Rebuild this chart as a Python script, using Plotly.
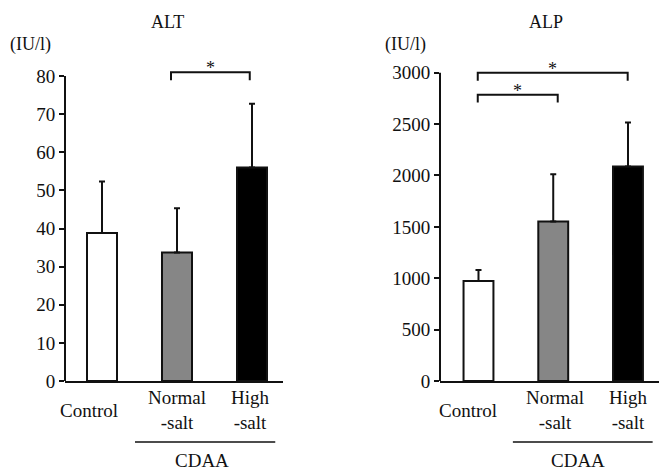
import plotly.graph_objects as go

# ---- data ----
categories = ["Control", "Normal<br>-salt", "High<br>-salt"]
alt_mean = [38.8, 33.7, 56.0]
alt_sd = [13.5, 11.6, 16.7]
alp_mean = [974, 1551, 2087]
alp_sd = [107, 462, 428]
bar_colors = ["white", "#868686", "black"]

# significance brackets: start category, end category, level, drop
alt_sig_from = [0.92]
alt_sig_to = [1.97]
alt_sig_level = [81]
alt_sig_drop = [2.1]
alp_sig_from = [-0.01, -0.01]
alp_sig_to = [1.996, 1.06]
alp_sig_level = [3000, 2785]
alp_sig_drop = [78, 75]

FONT = "Liberation Serif"
INK = "#111111"
xs = list(range(len(categories)))

fig = go.Figure()

for mean, sd, xa, ya in [(alt_mean, alt_sd, "x", "y"), (alp_mean, alp_sd, "x2", "y2")]:
    fig.add_trace(go.Bar(
        x=xs, y=mean, width=0.4,
        marker=dict(color=bar_colors, line=dict(color=INK, width=2)),
        error_y=dict(type="data", symmetric=False, array=sd,
                     arrayminus=[0] * len(sd), color=INK, thickness=2, width=3),
        xaxis=xa, yaxis=ya, showlegend=False, hoverinfo="skip",
    ))

axis_common = dict(showgrid=False, zeroline=False)
fig.update_layout(
    template="none",
    width=660, height=471,
    margin=dict(l=0, r=0, t=0, b=0),
    paper_bgcolor="white", plot_bgcolor="white",
    font=dict(family=FONT, size=19, color=INK),
    xaxis=dict(domain=[65 / 660, 283 / 660], range=[-0.4933, 2.4133],
               showline=True, linewidth=2, linecolor=INK,
               showticklabels=False, ticks="", anchor="y", **axis_common),
    yaxis=dict(domain=[1 - 381 / 471, 1 - 60.75 / 471], range=[0, 84],
               tickvals=list(range(0, 81, 10)), ticks="outside", ticklen=5,
               tickwidth=2, tickcolor=INK, showline=False, anchor="x",
               tickfont=dict(size=19), **axis_common),
    xaxis2=dict(domain=[440 / 660, 659 / 660], range=[-0.515, 2.415],
                showline=True, linewidth=2, linecolor=INK,
                showticklabels=False, ticks="", anchor="y2", **axis_common),
    yaxis2=dict(domain=[1 - 381 / 471, 1 - 57.3 / 471], range=[0, 3150],
                tickvals=list(range(0, 3001, 500)), ticks="outside", ticklen=5,
                tickwidth=2, tickcolor=INK, showline=False, anchor="x2",
                tickfont=dict(size=19), **axis_common),
)

line = dict(color=INK, width=2)

# y axis lines stopping at top tick
fig.add_shape(type="line", xref="paper", yref="y", x0=65 / 660, x1=65 / 660,
              y0=0, y1=80, line=line)
fig.add_shape(type="line", xref="paper", yref="y2", x0=440 / 660, x1=440 / 660,
              y0=0, y1=3000, line=line)

# significance brackets
for xa, ya, f, t, lv, dr in [("x", "y", alt_sig_from, alt_sig_to, alt_sig_level, alt_sig_drop),
                              ("x2", "y2", alp_sig_from, alp_sig_to, alp_sig_level, alp_sig_drop)]:
    for a, b, l, d in zip(f, t, lv, dr):
        fig.add_shape(type="path", xref=xa, yref=ya,
                      path=f"M {a} {l - d} L {a} {l} L {b} {l} L {b} {l - d}",
                      line=line, fillcolor="rgba(0,0,0,0)")
        fig.add_annotation(x=(a + b) / 2, y=l, xref=xa, yref=ya, text="*",
                           showarrow=False, yanchor="middle", yshift=4,
                           font=dict(size=18, family=FONT, color=INK))

# category labels
label_shift = [-13, 0, -2]
label_shift2 = [-10, 2, 1]
for xa, shifts in [("x", label_shift), ("x2", label_shift2)]:
    for i, c in enumerate(categories):
        fig.add_annotation(x=xs[i], y=1 - 410 / 471, xref=xa, yref="paper",
                           text=c, showarrow=False, xshift=shifts[i],
                           yanchor="middle", font=dict(size=19))

# CDAA group lines and labels
for xa, x0, x1, xt in [("x", 0.44, 2.31, 1.333), ("x2", 0.46, 2.33, 1.331)]:
    fig.add_shape(type="line", xref=xa, yref="paper", x0=x0, x1=x1,
                  y0=1 - 442 / 471, y1=1 - 442 / 471, line=dict(color=INK, width=1.5))
    fig.add_annotation(x=xt, y=1 - 460 / 471, xref=xa, yref="paper", text="CDAA",
                       showarrow=False, yanchor="middle", font=dict(size=19))

# titles and units
for txt, px, py in [("ALT", 168, 22), ("ALP", 546, 22), ("(IU/l)", 30, 45), ("(IU/l)", 405, 45)]:
    fig.add_annotation(x=px / 660, y=1 - py / 471, xref="paper", yref="paper",
                       text=txt, showarrow=False, xanchor="center", yanchor="middle",
                       font=dict(size=18))

fig.write_html("out.html", config={"displayModeBar": False},
               post_script="document.body.style.margin='0px';document.body.style.overflow='hidden';")
